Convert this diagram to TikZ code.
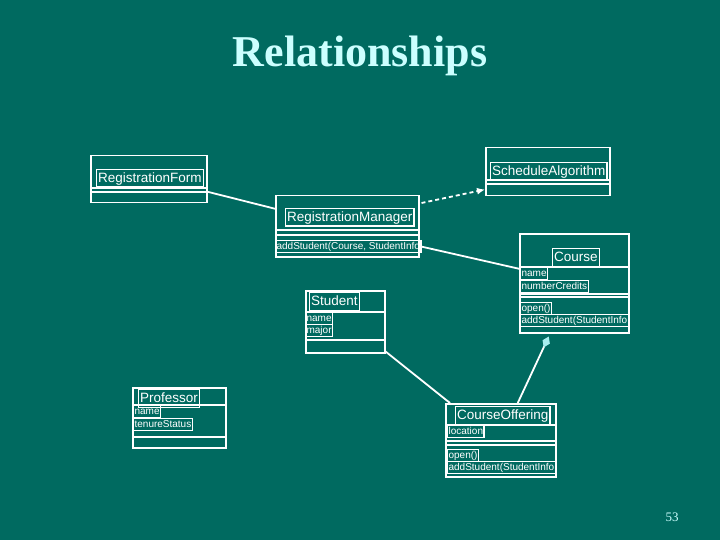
\documentclass[tikz,border=0pt]{standalone}
\usepackage{fontspec}
\setmainfont{Liberation Serif}
\setsansfont{Liberation Sans}
\usetikzlibrary{arrows.meta}
\definecolor{bg}{HTML}{006A60}
\definecolor{titlec}{HTML}{CCFFFF}
\definecolor{diam}{HTML}{A8EEEE}
\tikzset{
  cls/.style={draw=white, line width=1.5pt, anchor=north west, inner sep=0pt},
  cname/.style={draw=white, line width=1.3pt, anchor=north west, inner xsep=1.5pt, inner ysep=1.5pt,
     text height=11pt, text depth=3.5pt, font=\sffamily\fontsize{13.5}{14}\selectfont, text=white},
  attr/.style={draw=white, line width=1.2pt, anchor=north west, inner xsep=1pt, inner ysep=0.8pt,
     text height=8pt, text depth=2.5pt, font=\sffamily\fontsize{10}{11}\selectfont, text=white},
  sep/.style={draw=white, line width=1.5pt},
  conn/.style={draw=white, line width=1.8pt},
}
\newcommand\sepline[2]{\draw[sep] ([yshift=-#2pt]#1.north west) -- ([yshift=-#2pt]#1.north east);}
\begin{document}
\begin{tikzpicture}[x=1pt,y=-1pt]
\fill[bg] (0,0) rectangle (720,540);
\useasboundingbox (0,0) rectangle (720,540);

\node[text=titlec, font=\rmfamily\bfseries\fontsize{44}{48}\selectfont] (title) at (360,56) {Relationships};

% RegistrationForm
\node[cls, minimum width=116pt, minimum height=47pt] (rf) at (90,155) {};
\node[cname] (rfn) at (96,169) {RegistrationForm};
\sepline{rf}{33}
\sepline{rf}{37}

% ScheduleAlgorithm
\node[cls, minimum width=124pt, minimum height=48pt] (sa) at (485,147) {};
\node[cname] (san) at (490,162) {ScheduleAlgorithm};
\sepline{sa}{33}
\sepline{sa}{37}

% RegistrationManager
\node[cls, minimum width=143pt, minimum height=61pt] (rm) at (275,195) {};
\node[cname] (rmn) at (285,208) {RegistrationManager};
\sepline{rm}{35}
\sepline{rm}{40}
\node[attr] (rmo) at (275,240) {addStudent(Course, StudentInfo};

% Course
\node[cls, minimum width=109pt, minimum height=99pt] (co) at (519,233) {};
\node[cname] (con) at (552,248) {Course};
\sepline{co}{34}
\node[attr] (coa1) at (520,267) {name};
\node[attr] (coa2) at (520,280) {numberCredits};
\sepline{co}{61}
\sepline{co}{64}
\node[attr] (coo1) at (520,302) {open()};
\node[attr] (coo2) at (520,314) {addStudent(StudentInfo};

% Student
\node[cls, minimum width=79pt, minimum height=62pt] (st) at (305,290) {};
\node[cname] (stn) at (309,292) {Student};
\sepline{st}{22}
\node[attr] (sta1) at (305,312) {name};
\node[attr] (sta2) at (305,324) {major};
\sepline{st}{50}

% Professor
\node[cls, minimum width=93pt, minimum height=60pt] (pr) at (132,387) {};
\node[cname] (prn) at (138,389) {Professor};
\sepline{pr}{18}
\node[attr] (pra1) at (133,405) {name};
\node[attr] (pra2) at (133,418) {tenureStatus};
\sepline{pr}{50}

% CourseOffering
\node[cls, minimum width=110pt, minimum height=73pt] (cf) at (445,403) {};
\node[cname] (cfn) at (455,406) {CourseOffering};
\sepline{cf}{22}
\node[attr] (cfa1) at (447,425) {location};
\sepline{cf}{38}
\sepline{cf}{42}
\node[attr] (cfo1) at (447,449) {open()};
\node[attr] (cfo2) at (447,461) {addStudent(StudentInfo};

% connectors
\draw[conn] ([yshift=-12.5pt]rf.east) -- ([yshift=17.5pt]rm.west);
\draw[conn, dashed, dash pattern=on 4pt off 3pt, -{Latex[length=8pt,width=7pt]}]
  ([xshift=2pt,yshift=-8pt]rm.north east) -- ([yshift=7pt]sa.south west);
\draw[conn] (rmo.east) -- ([yshift=14.5pt]co.west);
\draw[conn] ([yshift=2pt]st.south east) -- ([xshift=5pt]cf.north west);
\draw[conn, -{Diamond[length=12pt,width=8pt,fill=diam,color=diam]}]
  ([xshift=17pt]cf.north) -- ([xshift=-25.5pt,yshift=-3pt]co.south);

\node[text=titlec, font=\rmfamily\fontsize{13}{14}\selectfont] (pg) at (672,517) {53};
\end{tikzpicture}
\end{document}
